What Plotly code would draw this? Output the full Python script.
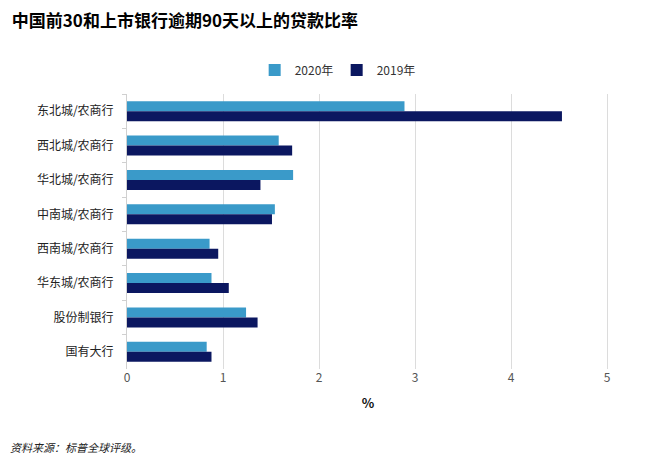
import plotly.graph_objects as go

# data
categories = ["东北城/农商行", "西北城/农商行", "华北城/农商行", "中南城/农商行",
              "西南城/农商行", "华东城/农商行", "股份制银行", "国有大行"]
values_2020 = [2.89, 1.58, 1.73, 1.54, 0.86, 0.88, 1.24, 0.83]
values_2019 = [4.53, 1.72, 1.39, 1.51, 0.95, 1.06, 1.36, 0.88]
x_ticks = [0, 1, 2, 3, 4, 5]

fig = go.Figure()
fig.add_trace(go.Bar(y=categories, x=values_2020, name="2020年", orientation="h",
                     marker=dict(color="#3a9ac9", line=dict(width=0))))
fig.add_trace(go.Bar(y=categories, x=values_2019, name="2019年", orientation="h",
                     marker=dict(color="#0b1760", line=dict(width=0))))

# page has an 8px body margin, so the figure is a bit smaller than the window
fig.update_layout(
    width=641, height=459,
    paper_bgcolor="white", plot_bgcolor="white",
    margin=dict(l=119, r=40, t=86, b=98),
    barmode="group", bargap=0.42, bargroupgap=0,
    font=dict(family="Noto Sans CJK SC, Roboto, sans-serif", color="#222"),
    title=dict(text="<b>中国前30和上市银行逾期90天以上的贷款比率</b>",
               x=0.006, xanchor="left", y=0.972, yanchor="middle",
               font=dict(size=17, color="#000")),
    legend=dict(orientation="h", x=0.435, xanchor="center", y=1.087, yanchor="middle",
                font=dict(size=12, color="#333"), traceorder="normal",
                itemwidth=30, entrywidth=37),
    xaxis=dict(range=[0, 5.02], tickvals=x_ticks, showgrid=True, gridcolor="#dcdcdc",
               zeroline=False, showline=False, ticks="",
               tickfont=dict(size=12, color="#555"),
               title=dict(text="<b>%</b>", font=dict(size=13, color="#111"), standoff=14)),
    yaxis=dict(categoryorder="array", categoryarray=categories, autorange="reversed",
               automargin=False,
               showline=True, linecolor="#d0d0d0", ticks="outside", tickson="boundaries",
               ticklen=4, tickcolor="#d0d0d0",
               tickfont=dict(size=12, color="#222", family="Noto Sans CJK SC"),
               ticklabelstandoff=10),
)

fig.add_annotation(text="<i>资料来源：标普全球评级。</i>", xref="paper", yref="paper",
                   x=-0.247, xanchor="left", y=-0.284, yanchor="middle", showarrow=False,
                   font=dict(size=11, color="#222"))

fig.write_html("out.html")
